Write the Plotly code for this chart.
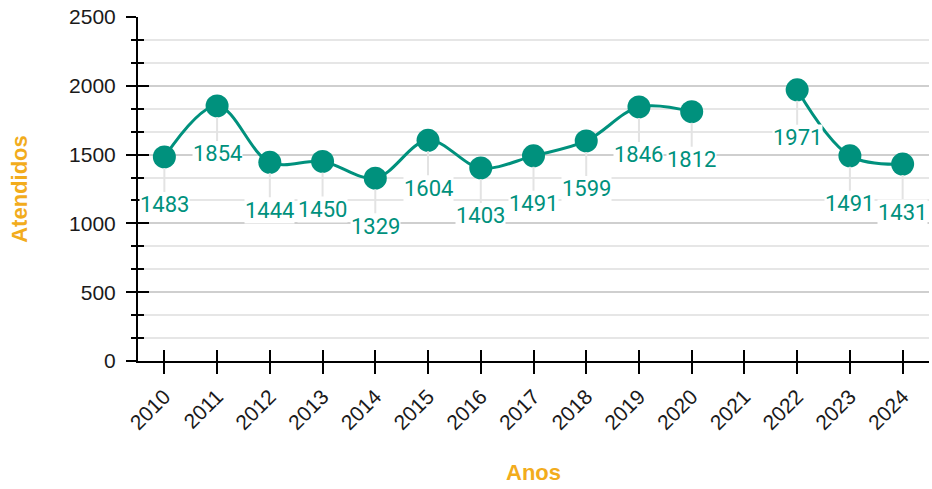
import plotly.graph_objects as go

years = [2010, 2011, 2012, 2013, 2014, 2015, 2016, 2017, 2018, 2019, 2020, 2021, 2022, 2023, 2024]
atendidos = [1483, 1854, 1444, 1450, 1329, 1604, 1403, 1491, 1599, 1846, 1812, None, 1971, 1491, 1431]
year_labels = [str(y) for y in years]

TEAL = "#00917d"
ORANGE = "#f2ac1c"
LABEL_FONT = "Roboto"
TICK_FONT = "Liberation Sans"

fig = go.Figure()
fig.add_trace(go.Scatter(
    x=years, y=atendidos, mode="lines+markers",
    line=dict(color=TEAL, width=3, shape="spline", smoothing=1.0),
    marker=dict(color=TEAL, size=23),
    connectgaps=False, hoverinfo="x+y", showlegend=False,
))
# invisible trace to anchor the overlay axes (crossing ticks)
fig.add_trace(go.Scatter(x=[years[0]], y=[0], xaxis="x2", yaxis="y2",
                         mode="markers", marker=dict(opacity=0), showlegend=False,
                         hoverinfo="skip"))

for x, v in zip(years, atendidos):
    if v is None:
        continue
    fig.add_annotation(
        x=x, y=v, xref="x", yref="y", text=str(v), showarrow=True,
        arrowhead=0, arrowwidth=2, arrowcolor="#e3e3e3", ax=0, ay=48,
        standoff=11, bgcolor="white", borderpad=0,
        font=dict(family=LABEL_FONT, size=22, color=TEAL),
    )

fig.update_layout(
    width=932, height=489,
    margin=dict(l=138, r=3, t=17, b=128, autoexpand=False),
    paper_bgcolor="white", plot_bgcolor="white",
    font=dict(family=TICK_FONT, size=21, color="#1a1a1a"),
    xaxis=dict(
        range=[2009.5, 2024.5], tickvals=years, ticktext=year_labels,
        tickangle=-45, ticks="outside", ticklen=11, tickwidth=2, tickcolor="black",
        showline=True, linecolor="black", linewidth=2, showgrid=False, zeroline=False,
        automargin=False, ticklabelstandoff=2,
        tickfont=dict(family=TICK_FONT, size=21, color="#1a1a1a"),
        title=dict(text="Anos", standoff=32,
                   font=dict(family=TICK_FONT, size=22, color=ORANGE, weight="bold")),
    ),
    yaxis=dict(
        range=[0, 2500], dtick=500, tick0=0,
        ticks="outside", ticklen=10, tickwidth=2, tickcolor="black",
        showline=True, linecolor="black", linewidth=2,
        showgrid=True, gridcolor="#cfcfcf", gridwidth=1.5, zeroline=False,
        automargin=False, ticklabelstandoff=6,
        minor=dict(dtick=500/3, tick0=0, ticks="outside", ticklen=5, tickwidth=2,
                   tickcolor="black", showgrid=True, gridcolor="#e6e6e6", gridwidth=1.5),
        tickfont=dict(family=TICK_FONT, size=21, color="#1a1a1a"),
        title=dict(text="Atendidos", standoff=35,
                   font=dict(family=TICK_FONT, size=22, color=ORANGE, weight="bold")),
    ),
    xaxis2=dict(
        overlaying="x", anchor="y2", range=[2009.5, 2024.5], tickvals=years,
        ticks="inside", ticklen=11, tickwidth=2, tickcolor="black",
        showticklabels=False, showgrid=False, showline=False, zeroline=False,
        automargin=False,
    ),
    yaxis2=dict(
        overlaying="y", anchor="x2", range=[0, 2500], dtick=500, tick0=0,
        ticks="inside", ticklen=11, tickwidth=2, tickcolor="black",
        minor=dict(dtick=500/3, tick0=0, ticks="inside", ticklen=6, tickwidth=2,
                   tickcolor="black", showgrid=False),
        showticklabels=False, showgrid=False, showline=False, zeroline=False,
        automargin=False,
    ),
)

fig.write_html("out.html", config={"displayModeBar": False},
               post_script="document.body.style.margin='0';document.body.style.padding='0';")
